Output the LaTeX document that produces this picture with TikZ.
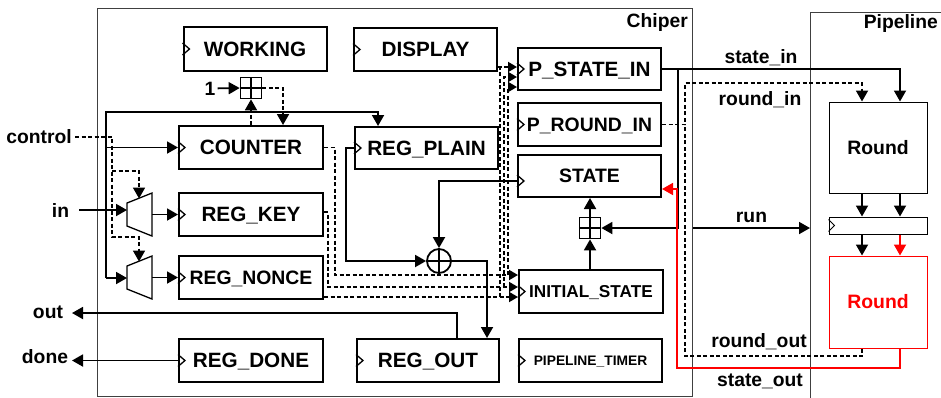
\documentclass[tikz,border=0pt]{standalone}
\usepackage{fontspec}
\setmainfont{Liberation Sans}
\usetikzlibrary{arrows.meta,calc}
\tikzset{
  regbox/.style={draw, line width=2pt, inner sep=0pt},
  thinbox/.style={draw, line width=1pt, inner sep=0pt},
  frame/.style={draw=black!75, line width=1pt},
  f20/.style={font=\bfseries\fontsize{20.7}{24}\selectfont, text height=14.8pt, text depth=0pt},
  f19/.style={font=\bfseries\fontsize{19.4}{23}\selectfont, text height=13.9pt, text depth=0pt},
  f17/.style={font=\bfseries\fontsize{17.2}{20}\selectfont, text height=12.3pt, text depth=0pt},
  f14/.style={font=\bfseries\fontsize{13.8}{16}\selectfont, text height=9.9pt, text depth=0pt},
  lbl/.style={inner sep=0pt, font=\bfseries\fontsize{19.3}{22}\selectfont},
  wire/.style={line width=1.8pt},
  dsh/.style={line width=1.8pt, dash pattern=on 4pt off 2.5pt},
  arr/.style={-{Triangle[length=11pt,width=12pt]}},
  sarr/.style={-{Triangle[length=9pt,width=10pt]}},
  bplus/.style={draw, line width=1.7pt, minimum size=21pt, inner sep=0pt,
    path picture={\draw[line width=1.7pt] (path picture bounding box.north) -- (path picture bounding box.south)
      (path picture bounding box.west) -- (path picture bounding box.east);}},
  xorc/.style={circle, draw, line width=1.8pt, minimum size=24pt, inner sep=0pt,
    path picture={\draw[line width=1.8pt] (path picture bounding box.north) -- (path picture bounding box.south)
      (path picture bounding box.west) -- (path picture bounding box.east);}},
}
\newcommand\myclk[2]{\draw[line width=1.3pt] (#1.west) ++(0,#2) ++(0,-6) -- ++(7,6) -- ++(-7,6);}
\begin{document}
\begin{tikzpicture}[x=1pt,y=-1pt]
\useasboundingbox (0,0) rectangle (941,397);
\clip (0,0) rectangle (941,397);
\fill[white] (0,0) rectangle (941,397);

% frames
\draw[frame] (97,8) rectangle (692,396);
\node[lbl, anchor=base east] (chiperlbl) at (688,27) {Chiper};
\draw[frame] (810,12) rectangle (960,420);
\node[lbl, anchor=base east] (pipelbl) at (938,28) {Pipeline};

% registers
\node[regbox, f20, minimum width=143pt, minimum height=44pt] (working) at (255,49) {WORKING};
\node[regbox, f20, minimum width=143pt, minimum height=43pt] (display) at (425.5,49.5) {DISPLAY};
\node[regbox, f20, minimum width=143pt, minimum height=42pt] (pstate) at (589.5,69) {P\_STATE\_IN};
\node[regbox, f19, minimum width=143pt, minimum height=43pt] (pround) at (589.5,124.5) {P\_ROUND\_IN};
\node[regbox, f19, minimum width=143pt, minimum height=42pt] (state) at (589.5,176) {STATE};
\node[regbox, f20, minimum width=144pt, minimum height=43pt] (counter) at (251,147.5) {COUNTER};
\node[regbox, f20, minimum width=143pt, minimum height=42pt] (regplain) at (426.5,148) {REG\_PLAIN};
\node[regbox, f20, minimum width=144pt, minimum height=43pt] (regkey) at (251,214.5) {REG\_KEY};
\node[regbox, f19, minimum width=144pt, minimum height=43pt] (regnonce) at (251,277.5) {REG\_NONCE};
\node[regbox, f20, minimum width=144pt, minimum height=43pt] (regdone) at (251,360.5) {REG\_DONE};
\node[regbox, f20, minimum width=142pt, minimum height=43pt] (regout) at (428,360.5) {REG\_OUT};
\node[regbox, f17, minimum width=144pt, minimum height=43pt] (initstate) at (591,291.5) {INITIAL\_STATE};
\node[regbox, f14, minimum width=143pt, minimum height=43pt] (ptimer) at (590.5,360.5) {PIPELINE\_TIMER};

\myclk{working}{0}
\myclk{display}{0}
\myclk{pstate}{0}
\myclk{pround}{0}
\myclk{state}{5}
\myclk{counter}{0}
\myclk{regplain}{0}
\myclk{regkey}{0}
\myclk{regnonce}{0}
\myclk{regdone}{0}
\myclk{regout}{0}
\myclk{initstate}{0}
\myclk{ptimer}{0}

% pipeline
\node[thinbox, f19, minimum width=98pt, minimum height=91pt] (round1) at (878,147.5) {Round};
\node[thinbox, minimum width=98pt, minimum height=17pt] (bar) at (878,225.5) {};
\draw[line width=1pt] (bar.west) ++(0,-6) -- ++(6,6) -- ++(-6,6);
\node[thinbox, draw=red, text=red, f19, minimum width=98pt, minimum height=92pt] (round2) at (878,302) {Round};

% muxes
\draw[line width=1.3pt] (127,203) -- (152,193) -- (152,236) -- (127,226) -- cycle;
\draw[line width=1.3pt] (127,266) -- (152,256) -- (152,299) -- (127,289) -- cycle;
\coordinate (m1in) at (127,210);
\coordinate (m1out) at (152,214.5);
\coordinate (m1sel) at (139,198.5);
\coordinate (m2in) at (127,278);
\coordinate (m2out) at (152,277.5);
\coordinate (m2sel) at (139,261.5);

% labels left
\node[lbl, anchor=base] (ctrllbl) at (39,143) {control};
\node[lbl, anchor=base] (inlbl) at (60.5,217) {in};
\node[lbl, anchor=base] (outlbl) at (48,318) {out};
\node[lbl, anchor=base] (donelbl) at (45,363) {done};
\coordinate (ctrl) at (75,137);
\coordinate (inp) at (79,210);
\coordinate (outp) at (72,313);
\coordinate (donep) at (72,360.5);

% control (dashed)
\draw[dsh, arr] (ctrl) -| (112,237) -| (m2sel);
\draw[dsh, arr] (112,171) -| (m1sel);

% clock-like solid line
\draw[wire, arr] (106,278) -- (m2in);
\draw[wire, arr] (106,278) |- (378,112) -- (regplain.north -| 378,0);
\draw[wire, arr] (106,147.5) -- (counter.west);
\draw[wire, arr] (inp) -- (m1in);
\draw[wire, arr] (m1out) -- (regkey.west);
\draw[wire, arr] (m2out) -- (regnonce.west);

% counter increment
\node[bplus] (bp1) at (251,88) {};
\node[lbl, anchor=base] (one) at (210,95) {1};
\draw[wire, arr] (one.east) ++(2,0) -- (bp1.west);
\draw[dsh, arr] (bp1.south |- counter.north) -- (bp1.south);
\draw[dsh, arr] (bp1.east) -| (counter.north -| 283,0);

% dashed bundle
\draw[dsh, sarr] (counter.east) -- (335,147.5) -- (335,275) -- (initstate.west |- 0,275);
\draw[dsh, sarr] (regkey.east |- 0,212) -- (328,212) -- (328,287) -- (initstate.west |- 0,287);
\draw[dsh, sarr] (regnonce.east |- 0,297) -- (initstate.west |- 0,297);
\draw[dsh, sarr] (500,297) -- (500,67) -- (pstate.west |- 0,67);
\draw[dsh, sarr] (504,287) -- (504,77) -- (pstate.west |- 0,77);
\draw[dsh, sarr] (508,275) -- (508,87) -- (pstate.west |- 0,87);
\draw[dsh] (display.east |- 0,67) -- (500,67);

% datapath
\node[xorc] (xor) at (439,261) {};
\draw[wire, arr] (regplain.west) -- (346,148) |- (xor.west);
\draw[wire, arr] (state.west |- 0,181) -| (xor.north);
\draw[wire, arr] (xor.east) -| (regout.north -| 487,0);
\draw[wire, arr] (regout.north -| 457,0) |- (outp);
\draw[wire, arr] (regdone.west) -- (donep);

\node[bplus] (bp2) at (590,228) {};
\draw[wire, arr] (bp2 |- initstate.north) -- (bp2.south);
\draw[wire, arr] (bp2.north) -- (bp2 |- state.south);

% to/from pipeline
\coordinate (runsrc) at (693,228);
\coordinate (rundst) at (810,228);
\draw[wire, arr] (pstate.east) -| (round1.north -| 900,0);
\draw[wire, arr] (678,69) |- (bp2.east);
\draw[wire, arr] (runsrc) -- (rundst);
\draw[wire, arr] (round1.south -| 862,0) -- (bar.north -| 862,0);
\draw[wire, arr] (round1.south -| 900,0) -- (bar.north -| 900,0);
\draw[wire, arr] (bar.south -| 862,0) -- (round2.north -| 862,0);
\draw[wire, arr, red] (bar.south -| 900,0) -- (round2.north -| 900,0);
\draw[dsh, arr] (pround.east) -| (685,83) -| (round1.north -| 862,0);
\draw[dsh] (round2.south -| 862,0) |- (685,356) -- (685,124.5);
\draw[wire, arr, red] (round2.south -| 900,0) |- (677,368) |- (state.east |- 0,189);

\node[lbl, anchor=base] (sinlbl) at (761,63) {state\_in};
\node[lbl, anchor=base] (rinlbl) at (760,105) {round\_in};
\node[lbl, anchor=base] (runlbl) at (751.5,222) {run};
\node[lbl, anchor=base] (routlbl) at (759,347) {round\_out};
\node[lbl, anchor=base] (soutlbl) at (760,386) {state\_out};
\end{tikzpicture}
\end{document}
